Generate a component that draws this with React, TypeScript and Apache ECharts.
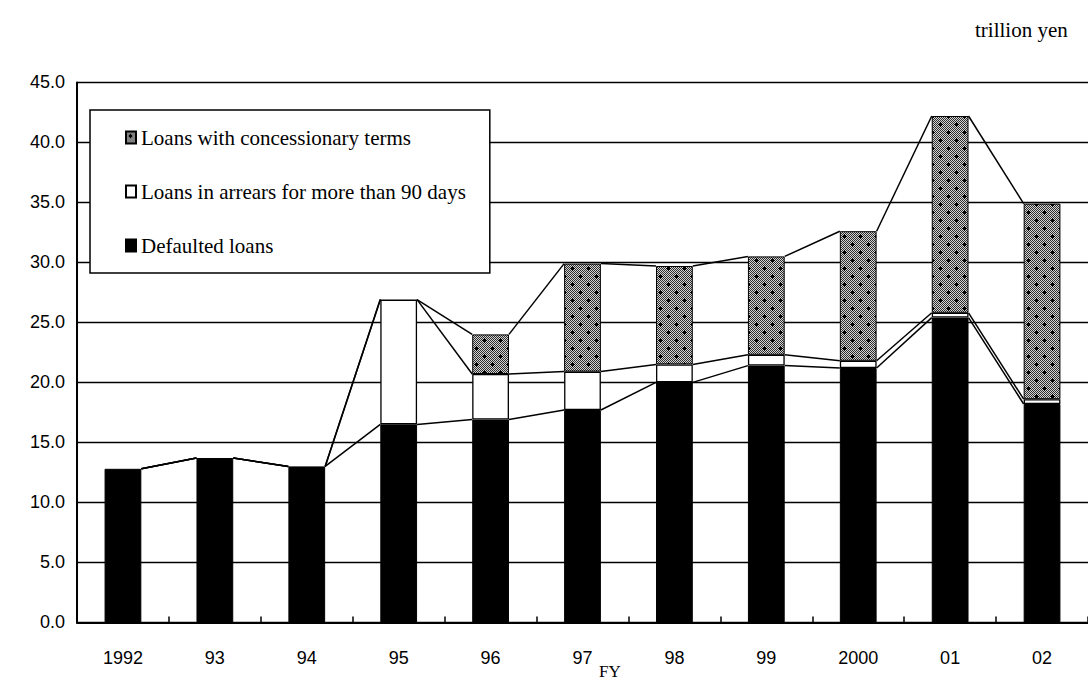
import React, { useEffect, useRef } from "react";
import * as echarts from "echarts";

// Fiscal years on the category axis
const fiscalYears = ["1992", "93", "94", "95", "96", "97", "98", "99", "2000", "01", "02"];

// Risk-management loans, trillion yen
const defaultedLoans = [12.8, 13.7, 13.0, 16.5, 16.9, 17.7, 20.0, 21.4, 21.2, 25.4, 18.2];
const arrearsLoans = [null, null, null, 10.4, 3.8, 3.2, 1.5, 0.9, 0.6, 0.4, 0.4];
const concessionaryLoans = [null, null, null, null, 3.3, 9.0, 8.2, 8.2, 10.8, 16.4, 16.3];

const seriesNames = [
  "Loans with concessionary terms",
  "Loans in arrears for more than 90 days",
  "Defaulted loans",
];

const Y_MIN = 0;
const Y_MAX = 45;
const Y_STEP = 5;

const SERIF = "'Liberation Serif', 'Times New Roman', serif";
const SANS = "'Liberation Sans', Arial, sans-serif";

// Fine grey checker with small black crosses, used as the hatch fill
function makeHatch(): HTMLCanvasElement {
  const size = 16;
  const c = document.createElement("canvas");
  c.width = size;
  c.height = size;
  const ctx = c.getContext("2d")!;
  for (let y = 0; y < size; y++) {
    for (let x = 0; x < size; x++) {
      ctx.fillStyle = (x + y) % 2 === 0 ? "#2e2e2e" : "#d4d4d4";
      ctx.fillRect(x, y, 1, 1);
    }
  }
  const cross = (cx: number, cy: number) => {
    ctx.fillStyle = "#000";
    ctx.fillRect(cx - 2, cy, 5, 1);
    ctx.fillRect(cx, cy - 2, 1, 5);
    ctx.fillRect(cx - 1, cy - 1, 3, 3);
  };
  cross(4, 4);
  cross(12, 12);
  return c;
}

export default function App() {
  const ref = useRef<HTMLDivElement>(null);

  useEffect(() => {
    if (!ref.current) return;
    const chart = echarts.init(ref.current, undefined, { renderer: "svg" });

    const hatch = makeHatch();

    // cumulative tops of each stack layer, for the connecting series lines
    const levels = fiscalYears.map((_, i) => {
      const a = defaultedLoans[i];
      const b = a + (arrearsLoans[i] ?? 0);
      const c = b + (concessionaryLoans[i] ?? 0);
      return [a, b, c].map((v) => Math.round(v * 10) / 10);
    });
    const seriesLineData = fiscalYears
      .slice(0, -1)
      .map((_, i) => [i, ...levels[i], ...levels[i + 1]]);

    chart.setOption({
      animation: false,
      backgroundColor: "#fff",
      grid: { left: 77, top: 82.4, width: 1017, bottom: 58.6, containLabel: false },
      legend: {
        orient: "vertical",
        left: 90,
        top: 110,
        data: seriesNames,
        icon: "rect",
        itemWidth: 10,
        itemHeight: 12,
        itemGap: 33,
        padding: [17, 24, 17, 35],
        backgroundColor: "#fff",
        borderColor: "#000",
        borderWidth: 1.5,
        borderRadius: 0,
        textStyle: { fontFamily: SERIF, fontSize: 21, color: "#000" },
        selectedMode: false,
      },
      xAxis: {
        type: "category",
        data: fiscalYears,
        boundaryGap: true,
        axisLine: { show: true, lineStyle: { color: "#000", width: 2 } },
        axisTick: { show: true, inside: true, length: 6, lineStyle: { color: "#000", width: 1.5 } },
        axisLabel: { interval: 0, margin: 27, color: "#000", fontFamily: SANS, fontSize: 18 },
        splitLine: { show: false },
      },
      yAxis: {
        type: "value",
        min: Y_MIN,
        max: Y_MAX,
        interval: Y_STEP,
        axisLine: { show: true, lineStyle: { color: "#000", width: 2 } },
        axisTick: { show: false },
        axisLabel: {
          margin: 12,
          color: "#000",
          fontFamily: SANS,
          fontSize: 18,
          formatter: (v: number) => v.toFixed(1),
        },
        splitLine: { show: true, lineStyle: { color: "#000", width: 1.3 } },
      },
      graphic: [
        {
          type: "text",
          left: 975,
          top: 19,
          style: { text: "trillion yen", font: `21px ${SERIF}`, fill: "#000" },
        },
        {
          type: "text",
          left: 599,
          top: 663,
          style: { text: "FY", font: `17px ${SERIF}`, fill: "#000" },
        },
      ],
      series: [
        {
          name: seriesNames[2],
          type: "bar",
          stack: "total",
          barWidth: "40%",
          data: defaultedLoans,
          itemStyle: { color: "#000", borderColor: "#000", borderWidth: 1 },
        },
        {
          name: seriesNames[1],
          type: "bar",
          stack: "total",
          barWidth: "40%",
          data: arrearsLoans,
          itemStyle: { color: "#fff", borderColor: "#000", borderWidth: 1.3 },
        },
        {
          name: seriesNames[0],
          type: "bar",
          stack: "total",
          barWidth: "40%",
          data: concessionaryLoans,
          itemStyle: {
            color: { image: hatch, repeat: "repeat" },
            borderColor: "#000",
            borderWidth: 1,
          },
        },
        {
          name: "series lines",
          type: "custom",
          z: 5,
          silent: true,
          data: seriesLineData,
          encode: { x: 0, y: [1, 2, 3, 4, 5, 6] },
          renderItem: (params: any, api: any) => {
            const i = api.value(0);
            const half = api.size([1, 0])[0] * 0.2;
            const children: any[] = [];
            for (let k = 0; k < 3; k++) {
              const p0 = api.coord([i, api.value(1 + k)]);
              const p1 = api.coord([i + 1, api.value(4 + k)]);
              children.push({
                type: "line",
                shape: { x1: p0[0] + half, y1: p0[1], x2: p1[0] - half, y2: p1[1] },
                style: { stroke: "#000", lineWidth: 1.5 },
              });
            }
            return { type: "group", children };
          },
        },
      ],
    });

    return () => chart.dispose();
  }, []);

  return (
    <div
      ref={ref}
      style={{ position: "fixed", left: 0, top: 0, width: 1088, height: 681, background: "#fff" }}
    />
  );
}
